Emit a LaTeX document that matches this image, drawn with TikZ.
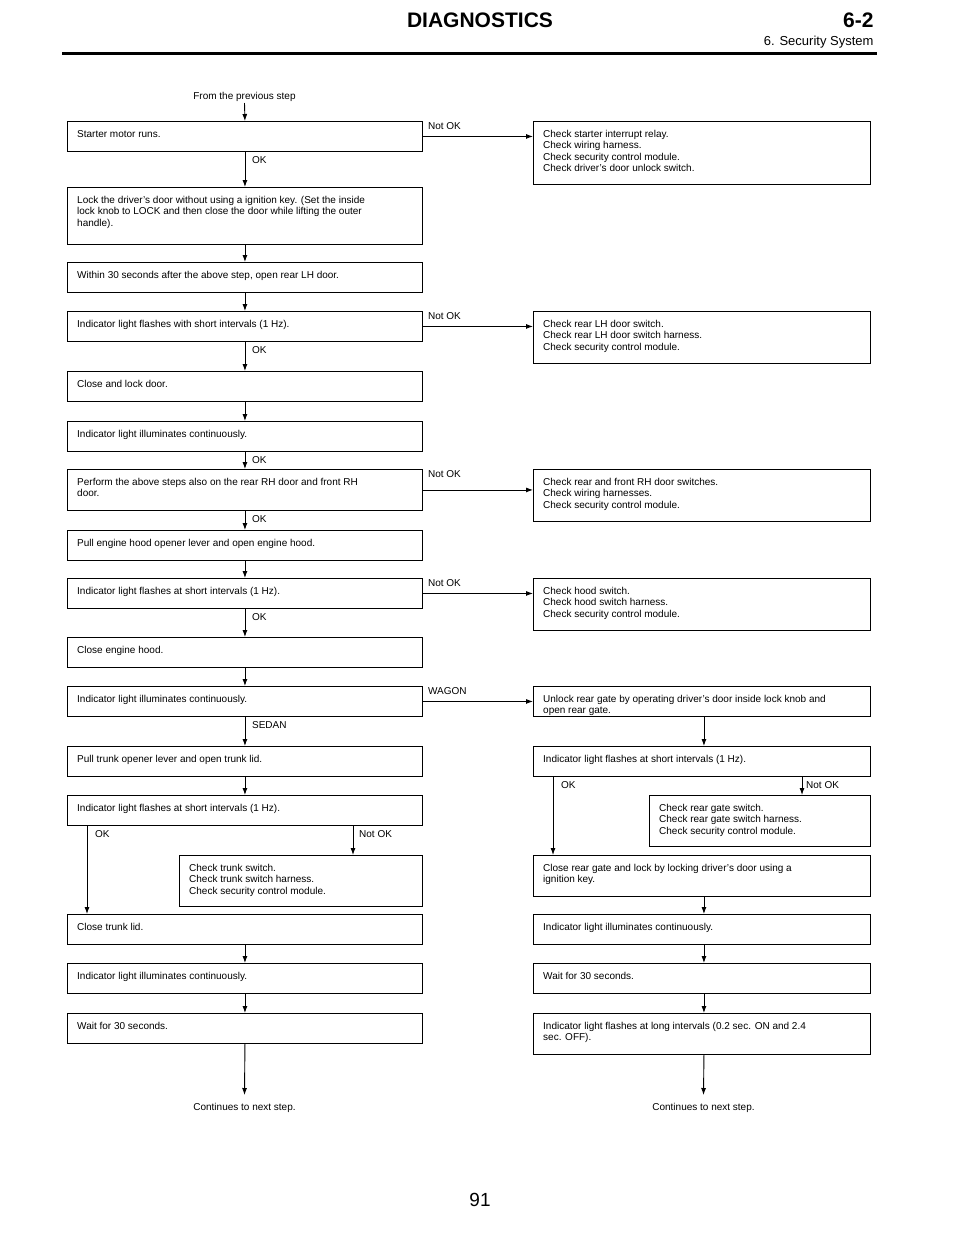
\documentclass[tikz,border=0pt]{standalone}
\usepackage{fontspec}
\setmainfont{Liberation Sans}
\usetikzlibrary{arrows.meta}
\tikzset{
 bx/.style={draw,line width=0.9pt,anchor=north west,inner sep=0pt},
 tx/.style={anchor=north west,align=left,inner sep=0pt,font=\fontsize{10}{11.3}\selectfont},
 lb/.style={anchor=base west,inner sep=0pt,font=\fontsize{10}{11.3}\selectfont},
 arr/.style={line width=0.9pt,-{Latex[length=7pt,width=5pt]}},
}
\newcommand{\mybox}[6]{%
 \node[bx,minimum width=#4-#2,minimum height=#5-#3] (#1) at (#2,#3) {};
 \node[tx] (#1t) at ([shift={(10,9)}]#1.north west) {#6};}
\begin{document}
\begin{tikzpicture}[x=1pt,y=-1pt]
\useasboundingbox (0,0) rectangle (960,1242);
% header
\node[font=\fontsize{21}{24}\selectfont\bfseries] (hd) at (480,20) {DIAGNOSTICS};
\node[font=\fontsize{21}{24}\selectfont\bfseries,anchor=east] (hn) at (877,20) {6-2};
\node[font=\fontsize{13}{15}\selectfont,anchor=east] (hs) at (877,42) {6. Security System};
\draw[line width=3pt] (62,53) -- (877,53);
\node[font=\fontsize{19}{22}\selectfont] (pg) at (480,1200) {91};
% left column
\mybox{a1}{67}{121}{422}{151}{Starter motor runs.}
\mybox{c1}{533}{121}{870}{184}{Check starter interrupt relay.\\Check wiring harness.\\Check security control module.\\Check driver’s door unlock switch.}
\mybox{a2}{67}{187}{422}{244}{Lock the driver’s door without using a ignition key. (Set the inside\\lock knob to LOCK and then close the door while lifting the outer\\handle).}
\mybox{a3}{67}{262}{422}{292}{Within 30 seconds after the above step, open rear LH door.}
\mybox{a4}{67}{311}{422}{341}{Indicator light flashes with short intervals (1 Hz).}
\mybox{c4}{533}{311}{870}{363}{Check rear LH door switch.\\Check rear LH door switch harness.\\Check security control module.}
\mybox{a5}{67}{371}{422}{401}{Close and lock door.}
\mybox{a6}{67}{421}{422}{451}{Indicator light illuminates continuously.}
\mybox{a7}{67}{469}{422}{510}{Perform the above steps also on the rear RH door and front RH\\door.}
\mybox{c7}{533}{469}{870}{521}{Check rear and front RH door switches.\\Check wiring harnesses.\\Check security control module.}
\mybox{a8}{67}{530}{422}{560}{Pull engine hood opener lever and open engine hood.}
\mybox{a9}{67}{578}{422}{608}{Indicator light flashes at short intervals (1 Hz).}
\mybox{c9}{533}{578}{870}{630}{Check hood switch.\\Check hood switch harness.\\Check security control module.}
\mybox{a10}{67}{637}{422}{667}{Close engine hood.}
\mybox{a11}{67}{686}{422}{716}{Indicator light illuminates continuously.}
\mybox{r1}{533}{686}{870}{716}{Unlock rear gate by operating driver’s door inside lock knob and\\open rear gate.}
\mybox{a12}{67}{746}{422}{776}{Pull trunk opener lever and open trunk lid.}
\mybox{r2}{533}{746}{870}{776}{Indicator light flashes at short intervals (1 Hz).}
\mybox{a13}{67}{795}{422}{825}{Indicator light flashes at short intervals (1 Hz).}
\mybox{r3}{649}{795}{870}{846}{Check rear gate switch.\\Check rear gate switch harness.\\Check security control module.}
\mybox{t1}{179}{855}{422}{906}{Check trunk switch.\\Check trunk switch harness.\\Check security control module.}
\mybox{r4}{533}{855}{870}{896}{Close rear gate and lock by locking driver’s door using a\\ignition key.}
\mybox{a14}{67}{914}{422}{944}{Close trunk lid.}
\mybox{r5}{533}{914}{870}{944}{Indicator light illuminates continuously.}
\mybox{a15}{67}{963}{422}{993}{Indicator light illuminates continuously.}
\mybox{r6}{533}{963}{870}{993}{Wait for 30 seconds.}
\mybox{a16}{67}{1013}{422}{1043}{Wait for 30 seconds.}
\mybox{r7}{533}{1013}{870}{1054}{Indicator light flashes at long intervals (0.2 sec. ON and 2.4\\sec. OFF).}
% start
\node[lb,anchor=base] (fp) at (244.5,99) {From the previous step};
\coordinate (fs) at (244.5,103);
\draw[arr] (fs) -- (a1.north);
% vertical left
\foreach \u/\v in {a1/a2,a2/a3,a3/a4,a4/a5,a5/a6,a6/a7,a7/a8,a8/a9,a9/a10,a10/a11,a11/a12,a12/a13,a14/a15,a15/a16}
 \draw[arr] (\u.south) -- (\v.north);
\foreach \u/\v in {r1/r2,r4/r5,r5/r6,r6/r7}
 \draw[arr] ([xshift=2pt]\u.south) -- ([xshift=2pt]\v.north);
% horizontal not ok
\foreach \u/\v/\t in {a1/c1/Not OK,a4/c4/Not OK,a7/c7/Not OK,a9/c9/Not OK,a11/r1/WAGON}{
 \draw[arr] (\u.east) -- (\u.east -| \v.west);
 \node[lb] at ([shift={(5,8)}]\u.north east) {\t};}
% ok labels
\foreach \u/\t in {a1/OK,a4/OK,a6/OK,a7/OK,a9/OK,a11/SEDAN}
 \node[lb] at ([shift={(7,12)}]\u.south) {\t};
% trunk split
\draw[arr] ([xshift=20pt]a13.south west) -- ([xshift=20pt]a13.south west |- a14.north);
\node[lb] at ([shift={(28,12)}]a13.south west) {OK};
\draw[arr] ([xshift=286pt]a13.south west) -- ([xshift=286pt]a13.south west |- t1.north);
\node[lb] at ([shift={(292,12)}]a13.south west) {Not OK};
% rear gate split
\draw[arr] ([xshift=20pt]r2.south west) -- ([xshift=20pt]r2.south west |- r4.north);
\node[lb] at ([shift={(28,12)}]r2.south west) {OK};
\draw[arr] ([xshift=269pt]r2.south west) -- ([xshift=269pt]r2.south west |- r3.north);
\node[lb] at ([shift={(273,12)}]r2.south west) {Not OK};
% continues
\coordinate (e1) at (244.5,1095);
\coordinate (e2) at (703.5,1095);
\draw[arr] (a16.south) -- (e1);
\draw[arr] ([xshift=2pt]r7.south) -- (e2);
\node[lb,anchor=base] (n1) at (244.5,1110) {Continues to next step.};
\node[lb,anchor=base] (n2) at (703.5,1110) {Continues to next step.};
\end{tikzpicture}
\end{document}
